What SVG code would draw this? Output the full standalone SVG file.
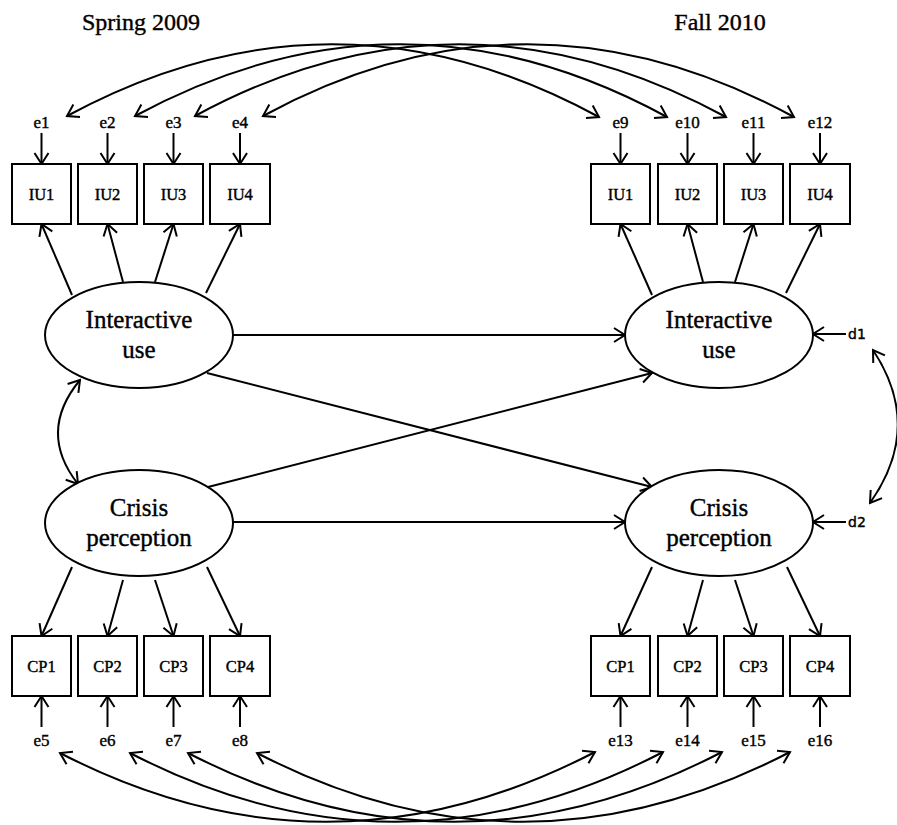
<svg xmlns="http://www.w3.org/2000/svg" width="897" height="825" viewBox="0 0 897 825">
<style>
.bx{fill:#fff;stroke:#000;stroke-width:2}
.el{fill:#fff;stroke:#000;stroke-width:2}
.ln{fill:none;stroke:#000;stroke-width:2}
.t{font-family:"Liberation Serif",serif;fill:#000;stroke:#000;stroke-width:0.4;text-anchor:middle}
.title{font-size:24px}
.lat{font-size:25px}
.obs{font-size:16.5px}
.err{font-size:17px}
.d{font-family:"DejaVu Sans",sans-serif;font-size:14px;fill:#000;stroke:#000;stroke-width:0.4}
</style>
<defs>
<marker id="ah" viewBox="-13 -9 15 18" markerWidth="15" markerHeight="18" refX="0" refY="0" markerUnits="userSpaceOnUse" orient="auto-start-reverse">
<path d="M-11,-7 L0,0 L-11,7" fill="none" stroke="#000" stroke-width="2"/>
</marker>
</defs>
<rect width="897" height="825" fill="#fff"/>
<text class="t title" x="141" y="30">Spring 2009</text>
<text class="t title" x="720" y="30">Fall 2010</text>

<g id="connectors" class="ln">
<path d="M41.5,133 V164" marker-end="url(#ah)"/>
<path d="M107.5,133 V164" marker-end="url(#ah)"/>
<path d="M173.5,133 V164" marker-end="url(#ah)"/>
<path d="M240,133 V164" marker-end="url(#ah)"/>
<path d="M620.5,133 V164" marker-end="url(#ah)"/>
<path d="M687.5,133 V164" marker-end="url(#ah)"/>
<path d="M753.5,133 V164" marker-end="url(#ah)"/>
<path d="M820,133 V164" marker-end="url(#ah)"/>
<path d="M41.5,727 V696" marker-end="url(#ah)"/>
<path d="M107.5,727 V696" marker-end="url(#ah)"/>
<path d="M173.5,727 V696" marker-end="url(#ah)"/>
<path d="M240,727 V696" marker-end="url(#ah)"/>
<path d="M620.5,727 V696" marker-end="url(#ah)"/>
<path d="M687.5,727 V696" marker-end="url(#ah)"/>
<path d="M753.5,727 V696" marker-end="url(#ah)"/>
<path d="M820,727 V696" marker-end="url(#ah)"/>
<path d="M72,295 L41.5,224" marker-end="url(#ah)"/>
<path d="M123,282 L107.5,224" marker-end="url(#ah)"/>
<path d="M155,282 L173.5,224" marker-end="url(#ah)"/>
<path d="M206,293 L240,224" marker-end="url(#ah)"/>
<path d="M652,295 L620.5,224" marker-end="url(#ah)"/>
<path d="M703,282 L687.5,224" marker-end="url(#ah)"/>
<path d="M735,282 L753.5,224" marker-end="url(#ah)"/>
<path d="M786,293 L820,224" marker-end="url(#ah)"/>
<path d="M72,567 L41.5,636" marker-end="url(#ah)"/>
<path d="M123,580 L107.5,636" marker-end="url(#ah)"/>
<path d="M155,580 L173.5,636" marker-end="url(#ah)"/>
<path d="M207,567 L240,636" marker-end="url(#ah)"/>
<path d="M652,567 L620.5,636" marker-end="url(#ah)"/>
<path d="M703,580 L687.5,636" marker-end="url(#ah)"/>
<path d="M735,580 L753.5,636" marker-end="url(#ah)"/>
<path d="M787,567 L820,636" marker-end="url(#ah)"/>
<path d="M233,335 H625" marker-end="url(#ah)"/>
<path d="M233,522 H625" marker-end="url(#ah)"/>
<path d="M207,373 L652,487" marker-end="url(#ah)"/>
<path d="M208,487 L652,373" marker-end="url(#ah)"/>
<path d="M846,334 H813" marker-end="url(#ah)"/>
<path d="M846,522 H813" marker-end="url(#ah)"/>
<path d="M80,380 Q37,432 78,484" marker-start="url(#ah)" marker-end="url(#ah)"/>
<path d="M873,350 Q924,427 870,503" marker-start="url(#ah)" marker-end="url(#ah)"/>
<path d="M67,116 Q333,-28 599,117" marker-start="url(#ah)" marker-end="url(#ah)"/>
<path d="M135,116 Q401,-28 667,117" marker-start="url(#ah)" marker-end="url(#ah)"/>
<path d="M195,116 Q460,-28 726,117" marker-start="url(#ah)" marker-end="url(#ah)"/>
<path d="M263,116 Q528,-28 794,117" marker-start="url(#ah)" marker-end="url(#ah)"/>
<path d="M60,753 Q327,891 595,752" marker-start="url(#ah)" marker-end="url(#ah)"/>
<path d="M130,753 Q396,891 663,752" marker-start="url(#ah)" marker-end="url(#ah)"/>
<path d="M188,753 Q455,891 722,752" marker-start="url(#ah)" marker-end="url(#ah)"/>
<path d="M257,753 Q523,891 790,752" marker-start="url(#ah)" marker-end="url(#ah)"/>
</g>

<g id="e1"><text class="t err" x="41.5" y="128">e1</text></g>
<g id="e2"><text class="t err" x="107.5" y="128">e2</text></g>
<g id="e3"><text class="t err" x="173.5" y="128">e3</text></g>
<g id="e4"><text class="t err" x="240" y="128">e4</text></g>
<g id="e9"><text class="t err" x="620.5" y="128">e9</text></g>
<g id="e10"><text class="t err" x="687.5" y="128">e10</text></g>
<g id="e11"><text class="t err" x="753.5" y="128">e11</text></g>
<g id="e12"><text class="t err" x="820" y="128">e12</text></g>
<g id="e5"><text class="t err" x="41.5" y="746">e5</text></g>
<g id="e6"><text class="t err" x="107.5" y="746">e6</text></g>
<g id="e7"><text class="t err" x="173.5" y="746">e7</text></g>
<g id="e8"><text class="t err" x="240" y="746">e8</text></g>
<g id="e13"><text class="t err" x="620.5" y="746">e13</text></g>
<g id="e14"><text class="t err" x="687.5" y="746">e14</text></g>
<g id="e15"><text class="t err" x="753.5" y="746">e15</text></g>
<g id="e16"><text class="t err" x="820" y="746">e16</text></g>

<g id="iu1_09"><rect class="bx" x="12" y="164" width="59" height="60"/><text class="t obs" x="41.5" y="200">IU1</text></g>
<g id="iu2_09"><rect class="bx" x="78" y="164" width="59" height="60"/><text class="t obs" x="107.5" y="200">IU2</text></g>
<g id="iu3_09"><rect class="bx" x="144" y="164" width="59" height="60"/><text class="t obs" x="173.5" y="200">IU3</text></g>
<g id="iu4_09"><rect class="bx" x="210" y="164" width="60" height="60"/><text class="t obs" x="240" y="200">IU4</text></g>
<g id="iu1_10"><rect class="bx" x="591" y="164" width="59" height="60"/><text class="t obs" x="620.5" y="200">IU1</text></g>
<g id="iu2_10"><rect class="bx" x="658" y="164" width="59" height="60"/><text class="t obs" x="687.5" y="200">IU2</text></g>
<g id="iu3_10"><rect class="bx" x="724" y="164" width="59" height="60"/><text class="t obs" x="753.5" y="200">IU3</text></g>
<g id="iu4_10"><rect class="bx" x="790" y="164" width="60" height="60"/><text class="t obs" x="820" y="200">IU4</text></g>

<g id="cp1_09"><rect class="bx" x="12" y="636" width="59" height="60"/><text class="t obs" x="41.5" y="672">CP1</text></g>
<g id="cp2_09"><rect class="bx" x="78" y="636" width="59" height="60"/><text class="t obs" x="107.5" y="672">CP2</text></g>
<g id="cp3_09"><rect class="bx" x="144" y="636" width="59" height="60"/><text class="t obs" x="173.5" y="672">CP3</text></g>
<g id="cp4_09"><rect class="bx" x="210" y="636" width="60" height="60"/><text class="t obs" x="240" y="672">CP4</text></g>
<g id="cp1_10"><rect class="bx" x="591" y="636" width="59" height="60"/><text class="t obs" x="620.5" y="672">CP1</text></g>
<g id="cp2_10"><rect class="bx" x="658" y="636" width="59" height="60"/><text class="t obs" x="687.5" y="672">CP2</text></g>
<g id="cp3_10"><rect class="bx" x="724" y="636" width="59" height="60"/><text class="t obs" x="753.5" y="672">CP3</text></g>
<g id="cp4_10"><rect class="bx" x="790" y="636" width="60" height="60"/><text class="t obs" x="820" y="672">CP4</text></g>

<g id="iu_09"><ellipse class="el" cx="139" cy="335" rx="94" ry="53"/><text class="t lat" x="139" y="328">Interactive</text><text class="t lat" x="139" y="358">use</text></g>
<g id="cp_09"><ellipse class="el" cx="139" cy="523" rx="94" ry="53"/><text class="t lat" x="139" y="516">Crisis</text><text class="t lat" x="139" y="546">perception</text></g>
<g id="iu_10"><ellipse class="el" cx="719" cy="335" rx="94" ry="53"/><text class="t lat" x="719" y="328">Interactive</text><text class="t lat" x="719" y="358">use</text></g>
<g id="cp_10"><ellipse class="el" cx="719" cy="523" rx="94" ry="53"/><text class="t lat" x="719" y="516">Crisis</text><text class="t lat" x="719" y="546">perception</text></g>

<g id="d1"><text class="d" x="848" y="339">d1</text></g>
<g id="d2"><text class="d" x="848" y="527">d2</text></g>
</svg>
